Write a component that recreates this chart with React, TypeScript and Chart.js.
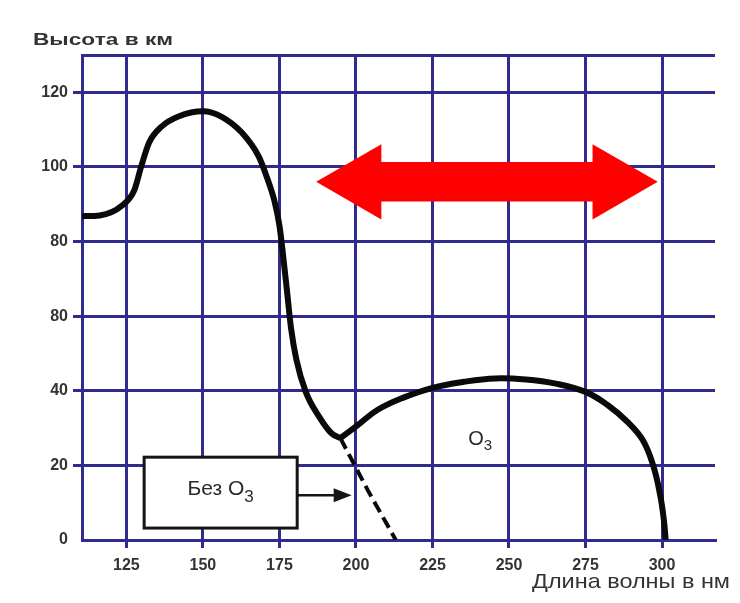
import React, { useEffect, useRef } from "react";
import { Chart, registerables } from "chart.js";

Chart.register(...registerables);

// Main curve (absorption without ozone, upper atmosphere)
const WAVELENGTH_MAIN = [110.5, 116.3, 123.7, 127.6, 129.8, 132.4, 136.5, 142.0, 150, 156.0, 162.7, 168.3, 171.0, 173.3, 175.0, 176.0, 177.4, 178.8, 180.5, 183.6, 188.0, 192.0, 194.9];
const HEIGHT_MAIN = [86.8, 87.0, 89.7, 93.8, 100, 106.5, 110.8, 113.5, 114.9, 113.5, 109.2, 102.7, 97.0, 91.1, 84.3, 77.7, 67.3, 56.7, 48.5, 39.7, 33.0, 28.6, 27.3];

// Ozone curve
const WAVELENGTH_O3 = [194.9, 200.6, 207.1, 215.3, 225.0, 235.3, 245.5, 255.5, 265.3, 275.0, 282.2, 288.8, 293.7, 297.1, 299.4, 300.6, 301.2];
const HEIGHT_O3 = [27.3, 30.8, 34.9, 38.1, 40.8, 42.4, 43.3, 43.0, 41.9, 39.7, 36.2, 31.6, 26.8, 20, 12, 5.3, 0];

// Without ozone (dashed)
const WAVELENGTH_NO_O3 = [194.9, 203.9, 213.0];
const HEIGHT_NO_O3 = [27.3, 13.3, 0];

const X_TICKS = [125, 150, 175, 200, 225, 250, 275, 300];
const Y_TICKS = [0, 20, 40, 60, 80, 100, 120];
const Y_TICK_LABELS = ["0", "20", "40", "80", "80", "100", "120"];

const X_MIN = 110.5;
const X_MAX = 317.3;
const Y_MIN = 0;
const Y_MAX = 130;

const Y_TITLE = "Высота в км";
const X_TITLE = "Длина волны в нм";
const BOX_LABEL = "Без O";
const O3_LABEL = "O";
const SUB = "3";

// Annotations in data units
const RED_ARROW = { x1: 187.0, x2: 298.6, y: 96.0, headLen: 21.3, shaftHalf: 5.3, headHalf: 10.1 };
const BOX = { x1: 130.8, x2: 180.8, y1: 3.2, y2: 22.2 };
const BOX_ARROW = { x2: 198.6, y: 12.0 };
const O3_POS = { x: 240.6, y: 26.2 };

const GRID = "#302b8c";
const FONT = "'Liberation Sans', Arial, sans-serif";
const TEXT = "#333333";

const zip = (xs: number[], ys: number[]) => xs.map((x, i) => ({ x, y: ys[i] }));

function drawSubscripted(ctx: any, main: string, sub: string, cx: number, cy: number, mainSize: number, subSize: number, subDrop: number) {
  ctx.font = `${mainSize}px ${FONT}`;
  const w1 = ctx.measureText(main).width;
  ctx.font = `${subSize}px ${FONT}`;
  const w2 = ctx.measureText(sub).width;
  const start = cx - (w1 + w2) / 2;
  ctx.textAlign = "left";
  ctx.textBaseline = "middle";
  ctx.font = `${mainSize}px ${FONT}`;
  ctx.fillText(main, start, cy);
  ctx.font = `${subSize}px ${FONT}`;
  ctx.fillText(sub, start + w1, cy + subDrop);
}

const annotations = {
  id: "annotations",
  afterDatasetsDraw(chart: any) {
    const { ctx, scales } = chart;
    const xs = scales.x;
    const ys = scales.y;
    const px = (v: number) => xs.getPixelForValue(v);
    const py = (v: number) => ys.getPixelForValue(v);
    ctx.save();

    // red double arrow
    const a = RED_ARROW;
    const lt = px(a.x1), rt = px(a.x2);
    const lb = px(a.x1 + a.headLen), rb = px(a.x2 - a.headLen);
    const cy = py(a.y);
    const sh = py(a.y - a.shaftHalf) - cy;
    const hh = py(a.y - a.headHalf) - cy;
    ctx.fillStyle = "#ff0000";
    ctx.beginPath();
    ctx.moveTo(lt, cy);
    ctx.lineTo(lb, cy - hh);
    ctx.lineTo(lb, cy - sh);
    ctx.lineTo(rb, cy - sh);
    ctx.lineTo(rb, cy - hh);
    ctx.lineTo(rt, cy);
    ctx.lineTo(rb, cy + hh);
    ctx.lineTo(rb, cy + sh);
    ctx.lineTo(lb, cy + sh);
    ctx.lineTo(lb, cy + hh);
    ctx.closePath();
    ctx.fill();

    // box
    const bx1 = px(BOX.x1), bx2 = px(BOX.x2);
    const by1 = py(BOX.y2), by2 = py(BOX.y1);
    ctx.fillStyle = "#ffffff";
    ctx.fillRect(bx1, by1, bx2 - bx1, by2 - by1);
    ctx.strokeStyle = "#151515";
    ctx.lineWidth = 3;
    ctx.strokeRect(bx1, by1, bx2 - bx1, by2 - by1);

    ctx.fillStyle = "#2a2a2a";
    drawSubscripted(ctx, BOX_LABEL, SUB, (bx1 + bx2) / 2, (by1 + by2) / 2 - 3, 21, 17, 8);

    // arrow from box
    const ax2 = px(BOX_ARROW.x2);
    const ay = py(BOX_ARROW.y);
    ctx.strokeStyle = "#151515";
    ctx.lineWidth = 2.5;
    ctx.beginPath();
    ctx.moveTo(bx2, ay);
    ctx.lineTo(ax2 - 14, ay);
    ctx.stroke();
    ctx.fillStyle = "#151515";
    ctx.beginPath();
    ctx.moveTo(ax2, ay);
    ctx.lineTo(ax2 - 18, ay - 7);
    ctx.lineTo(ax2 - 18, ay + 7);
    ctx.closePath();
    ctx.fill();

    // O3 label
    ctx.fillStyle = "#2a2a2a";
    drawSubscripted(ctx, O3_LABEL, SUB, px(O3_POS.x), py(O3_POS.y) - 3, 20, 15, 7);

    ctx.restore();
  },
  afterDraw(chart: any) {
    const { ctx } = chart;
    ctx.save();
    ctx.fillStyle = TEXT;
    ctx.textBaseline = "middle";
    ctx.textAlign = "left";
    // y title (wide lettering)
    ctx.font = `bold 17px ${FONT}`;
    const wy = ctx.measureText(Y_TITLE).width;
    ctx.save();
    ctx.translate(33, 40);
    ctx.scale(140 / wy, 1);
    ctx.fillText(Y_TITLE, 0, 0);
    ctx.restore();
    // x title
    ctx.font = `21px ${FONT}`;
    const wx = ctx.measureText(X_TITLE).width;
    ctx.save();
    ctx.translate(532, 582);
    ctx.scale(198 / wx, 1);
    ctx.fillText(X_TITLE, 0, 0);
    ctx.restore();
    ctx.restore();
  },
};

export default function App() {
  const ref = useRef<HTMLCanvasElement | null>(null);

  useEffect(() => {
    if (!ref.current) return;
    const chart = new Chart(ref.current, {
      type: "line",
      data: {
        datasets: [
          {
            label: "main",
            data: zip(WAVELENGTH_MAIN, HEIGHT_MAIN),
            borderColor: "#0a0a0a",
            borderWidth: 6,
            pointRadius: 0,
            cubicInterpolationMode: "monotone",
            fill: false,
          },
          {
            label: "O3",
            data: zip(WAVELENGTH_O3, HEIGHT_O3),
            borderColor: "#0a0a0a",
            borderWidth: 6,
            pointRadius: 0,
            tension: 0.4,
            fill: false,
          },
          {
            label: "no O3",
            data: zip(WAVELENGTH_NO_O3, HEIGHT_NO_O3),
            borderColor: "#0a0a0a",
            borderWidth: 4,
            borderDash: [12, 6],
            pointRadius: 0,
            tension: 0,
            fill: false,
          },
        ],
      },
      options: {
        animation: false,
        responsive: false,
        layout: { padding: { top: 55, right: 25, left: 0, bottom: 0 } },
        plugins: { legend: { display: false }, tooltip: { enabled: false }, title: { display: false } },
        scales: {
          x: {
            type: "linear",
            min: X_MIN,
            max: X_MAX,
            afterBuildTicks: (scale: any) => {
              scale.ticks = [X_MIN, ...X_TICKS].map((v) => ({ value: v }));
            },
            afterFit: (scale: any) => {
              scale.height = 63;
            },
            grid: {
              color: GRID,
              lineWidth: 3,
              drawTicks: true,
              tickLength: 8,
              tickColor: (c: any) => (c.tick && X_TICKS.includes(c.tick.value) ? GRID : "rgba(0,0,0,0)"),
            },
            border: { color: GRID, width: 3 },
            ticks: {
              autoSkip: false,
              maxRotation: 0,
              padding: 8,
              color: TEXT,
              font: { family: FONT, size: 16, weight: "bold" },
              callback: (v: any) => (X_TICKS.includes(Number(v)) ? String(v) : ""),
            },
          },
          y: {
            type: "linear",
            min: Y_MIN,
            max: Y_MAX,
            afterBuildTicks: (scale: any) => {
              scale.ticks = [...Y_TICKS, Y_MAX].map((v) => ({ value: v }));
            },
            afterFit: (scale: any) => {
              scale.width = 82;
            },
            grid: {
              color: GRID,
              lineWidth: 3,
              drawTicks: true,
              tickLength: 9,
              tickColor: (c: any) => (c.tick && c.tick.value > 0 && c.tick.value < Y_MAX ? GRID : "rgba(0,0,0,0)"),
            },
            border: { color: GRID, width: 3 },
            ticks: {
              autoSkip: false,
              padding: 5,
              color: TEXT,
              font: { family: FONT, size: 16, weight: "bold" },
              callback: (v: any) => {
                const i = Y_TICKS.indexOf(Number(v));
                return i >= 0 ? Y_TICK_LABELS[i] : "";
              },
            },
          },
        },
      },
      plugins: [annotations],
    } as any);
    return () => chart.destroy();
  }, []);

  return (
    <div style={{ position: "fixed", left: 0, top: 0, width: 740, height: 603, background: "#fff" }}>
      <canvas ref={ref} width={740} height={603} />
    </div>
  );
}
